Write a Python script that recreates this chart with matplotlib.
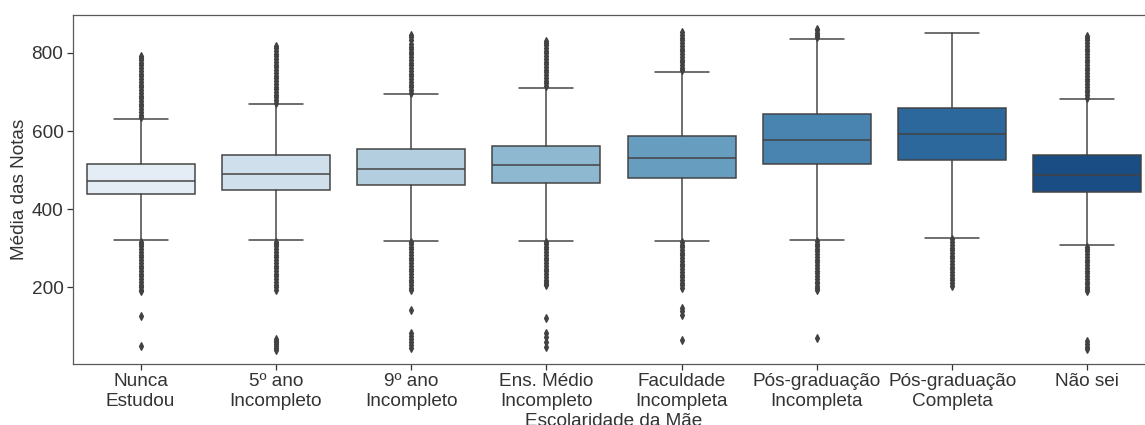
import matplotlib
matplotlib.use('Agg')
import matplotlib.pyplot as plt
import seaborn as sns

sns.set_style('ticks')
plt.rcParams['font.family'] = ['Liberation Sans', 'DejaVu Sans']

# escolaridade da mãe x média das notas (resumo dos boxplots)
categorias = ['Nunca\nEstudou', '5º ano\nIncompleto', '9º ano\nIncompleto',
              'Ens. Médio\nIncompleto', 'Faculdade\nIncompleta',
              'Pós-graduação\nIncompleta', 'Pós-graduação\nCompleta', 'Não sei']
q1 = [438, 450, 461, 466, 481, 515, 526, 445]
mediana = [473, 491, 503, 512, 532, 578, 592, 487]
q3 = [515, 538, 555, 563, 587, 643, 658, 539]
bigode_inf = [321, 321, 320, 320, 319, 322, 327, 308]
bigode_sup = [632, 668, 694, 711, 751, 836, 852, 681]

# outliers acima e abaixo dos bigodes
out_sup = [
    [636, 642, 649, 656, 663, 670, 677, 684, 691, 698, 705, 712, 719, 726, 733, 740,
     747, 754, 761, 768, 775, 782, 788, 791],
    [672, 679, 686, 693, 700, 707, 714, 721, 728, 735, 742, 749, 756, 763, 770, 777,
     784, 791, 798, 805, 812, 818],
    [698, 705, 712, 719, 726, 733, 740, 747, 754, 761, 768, 775, 782, 789, 796, 803,
     810, 816, 824, 832, 840, 846],
    [715, 722, 729, 736, 743, 750, 757, 764, 771, 778, 785, 792, 799, 806, 813, 820,
     826, 830],
    [755, 762, 769, 776, 783, 790, 797, 804, 811, 818, 825, 832, 839, 846, 853],
    [840, 846, 852, 858, 861],
    [],
    [685, 692, 699, 706, 713, 720, 727, 734, 741, 748, 755, 762, 769, 776, 783, 790,
     797, 804, 811, 818, 825, 832, 838, 842],
]
out_inf = [
    [317, 311, 305, 298, 291, 284, 277, 270, 263, 256, 249, 242, 235, 228, 221, 214,
     207, 200, 194, 190, 126, 51],
    [317, 311, 305, 298, 291, 284, 277, 270, 263, 256, 249, 242, 235, 228, 221, 214,
     207, 200, 194, 68, 64, 60, 55, 50, 45, 40],
    [316, 310, 304, 297, 290, 283, 276, 269, 262, 255, 248, 241, 234, 227, 220, 213,
     206, 199, 193, 142, 84, 76, 68, 60, 52, 44],
    [316, 310, 304, 297, 290, 283, 276, 269, 262, 255, 248, 241, 234, 227, 220, 213,
     208, 205, 122, 83, 72, 60, 47],
    [315, 309, 303, 296, 289, 282, 275, 268, 261, 254, 247, 240, 233, 226, 219, 212,
     205, 199, 148, 140, 130, 66],
    [318, 312, 306, 299, 292, 285, 278, 271, 264, 257, 250, 243, 236, 229, 222, 215,
     210, 204, 198, 194, 71],
    [323, 316, 309, 302, 295, 288, 281, 274, 267, 260, 253, 246, 239, 232, 225, 218,
     211, 204],
    [304, 298, 292, 285, 278, 271, 264, 257, 250, 243, 236, 229, 222, 215, 208, 201,
     195, 192, 62, 55, 48, 42],
]

stats = []
for i in range(len(categorias)):
    stats.append({'q1': q1[i], 'med': mediana[i], 'q3': q3[i],
                  'whislo': bigode_inf[i], 'whishi': bigode_sup[i],
                  'fliers': out_sup[i] + out_inf[i]})

cores = [sns.desaturate(c, 0.75) for c in sns.color_palette('Blues', len(categorias))]
cinza = '#424242'

fig = plt.figure(figsize=(1145 / 72, 425 / 72), dpi=72)
ax = fig.add_axes([73 / 1145, 61 / 425, 1082 / 1145, 349 / 425])

bp = ax.bxp(stats, positions=range(len(categorias)), widths=0.8, capwidths=0.4,
            patch_artist=True,
            boxprops=dict(edgecolor=cinza, linewidth=1.5),
            medianprops=dict(color=cinza, linewidth=1.5),
            whiskerprops=dict(color=cinza, linewidth=1.5),
            capprops=dict(color=cinza, linewidth=1.5),
            flierprops=dict(marker='d', markersize=5, markeredgewidth=1.2,
                            markerfacecolor=cinza, markeredgecolor=cinza,
                            linestyle='none'))
for caixa, cor in zip(bp['boxes'], cores):
    caixa.set_facecolor(cor)

ax.set_xlim(-0.5, len(categorias) - 0.5)
ax.set_ylim(4, 897)
ax.set_yticks([200, 400, 600, 800])
ax.set_xticks(range(len(categorias)))
ax.set_xticklabels(categorias)
ax.tick_params(labelsize=19, length=6, width=1.25, colors='.2')
for s in ax.spines.values():
    s.set_linewidth(1.25)
    s.set_color('.35')
ax.spines['right'].set_visible(False)

ax.set_xlabel('Escolaridade da Mãe', fontsize=19, labelpad=3, color='.2')
ax.set_ylabel('Média das Notas', fontsize=19, color='.2')

fig.savefig('out.png', dpi=72)
